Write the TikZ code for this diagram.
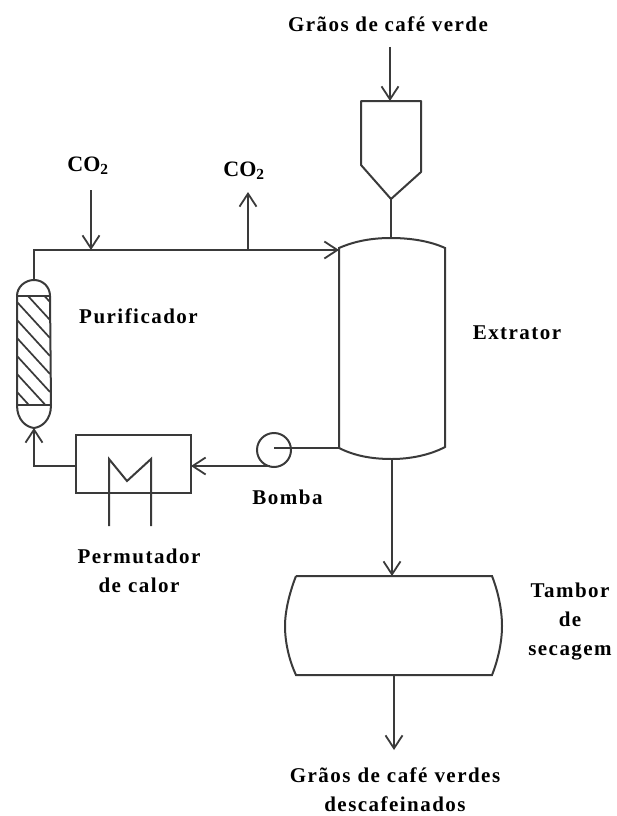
\documentclass[tikz,border=0pt]{standalone}
\usepackage{fontspec}
\setmainfont[LetterSpace=7]{Liberation Serif}
\newfontfamily\plainlbl{Liberation Serif}
\usetikzlibrary{arrows.meta}
\definecolor{ink}{HTML}{3A3A3A}
\tikzset{
  x=1pt,y=-1pt,
  pipe/.style={draw=ink,line width=2pt},
  flow/.style={pipe,-{Straight Barb[length=13pt,width=17pt,line width=1.8pt]}},
  lbl/.style={text=black,font=\bfseries\fontsize{21}{29}\selectfont,align=center,inner sep=0pt},
  hatch/.style={draw=ink,line width=1.7pt}
}
\begin{document}
\begin{tikzpicture}
\useasboundingbox (0,0) rectangle (616,816);
% named ports
\coordinate (feedin) at (390,47);
\coordinate (hoptop) at (390,101);
\coordinate (hoptip) at (391,199);
\coordinate (exttop) at (391,238);
\coordinate (extbot) at (392,459);
\coordinate (extinl) at (339,250);
\coordinate (extout) at (339,448);
\coordinate (drumtop) at (392,576);
\coordinate (drumbot) at (394,675);
\coordinate (prodout) at (394,750);
\coordinate (purtop) at (34,280);
\coordinate (purbot) at (34,428);
\coordinate (corner1) at (34,250);
\coordinate (co2in) at (91,190);
\coordinate (co2injoin) at (91,250);
\coordinate (co2outjoin) at (248,250);
\coordinate (co2out) at (248,192);
\coordinate (corner2) at (34,466);
% pump and exchanger
\node[draw=ink,line width=2pt,circle,minimum size=34pt,inner sep=0pt] (pump) at (274,450) {};
\node[draw=ink,line width=2pt,rectangle,minimum width=115pt,minimum height=58pt,inner sep=0pt] (hx) at (133.5,464) {};
\coordinate (pumpc) at (274,448);
\coordinate (pumpb) at (270,466);
\coordinate (hxr) at (191,466);
\coordinate (hxl) at (76,466);
\coordinate (m1) at (109,526);
\coordinate (m2) at (109,459);
\coordinate (m3) at (127,481);
\coordinate (m4) at (151,459);
\coordinate (m5) at (151,526);
% vessels
\draw[pipe,line join=round] (361,101) -- (hoptop) -- (421,101) -- (421,172) -- (hoptip) -- (361,165) -- cycle;
\draw[pipe] (339,448) -- (339,248) .. controls (355,241) and (372,238) .. (exttop) .. controls (410,238) and (430,241) .. (445,248) -- (445,447) .. controls (430,455) and (410,459) .. (extbot) .. controls (372,459) and (355,456) .. (339,448);
\draw[pipe] (296,576) -- (drumtop) -- (492,576) .. controls (499,594) and (502,612) .. (502,626) .. controls (502,642) and (498,660) .. (492,675) -- (drumbot) -- (296,675) .. controls (289,660) and (285,642) .. (285,626) .. controls (285,612) and (289,594) .. (296,576);
% purifier
\begin{scope}
\clip (17,296) rectangle (50,405);
\foreach \v in {266,284,...,392}{
  \draw[hatch] (17,\v) -- (50,\v+36);
}
\end{scope}
\draw[pipe] (17,296) -- (17,405) .. controls (17,420) and (26,427) .. (purbot) .. controls (42,427) and (51,420) .. (51,405) -- (50,296) .. controls (50,287) and (43,280) .. (purtop) .. controls (25,280) and (17,287) .. (17,296);
\draw[pipe] (17,296) -- (50,296);
\draw[pipe] (17,405) -- (51,405);
% connectors
\draw[flow] (feedin) -- (hoptop);
\draw[pipe] (hoptip) -- (exttop);
\draw[flow] (extbot) -- (drumtop);
\draw[flow] (drumbot) -- (prodout);
\draw[flow] (purtop) -- (corner1) -- (extinl);
\draw[flow] (co2in) -- (co2injoin);
\draw[flow] (co2outjoin) -- (co2out);
\draw[pipe] (pumpc) -- (extout);
\draw[flow] (pumpb) -- (hxr);
\draw[flow] (hxl) -- (corner2) -- (purbot);
\draw[pipe,line join=miter] (m1) -- (m2) -- (m3) -- (m4) -- (m5);
% labels
\node[lbl] (t1) at (388,24) {Grãos de café verde};
\node[lbl,font=\plainlbl\bfseries\fontsize{22}{30}\selectfont] (t2) at (88,166) {CO\textsubscript{2}};
\node[lbl,font=\plainlbl\bfseries\fontsize{22}{30}\selectfont] (t3) at (244,171) {CO\textsubscript{2}};
\node[lbl] (t4) at (138.5,316) {Purificador};
\node[lbl] (t5) at (517,333) {Extrator};
\node[lbl] (t6) at (287.5,497) {Bomba};
\node[lbl,text width=130pt] (t7) at (139,571) {Permutador\\de calor};
\node[lbl,text width=100pt] (t8) at (570,622) {Tambor\\de\\secagem};
\node[lbl,text width=240pt] (t9) at (395,790) {Grãos de café verdes\\descafeinados};
\end{tikzpicture}
\end{document}
